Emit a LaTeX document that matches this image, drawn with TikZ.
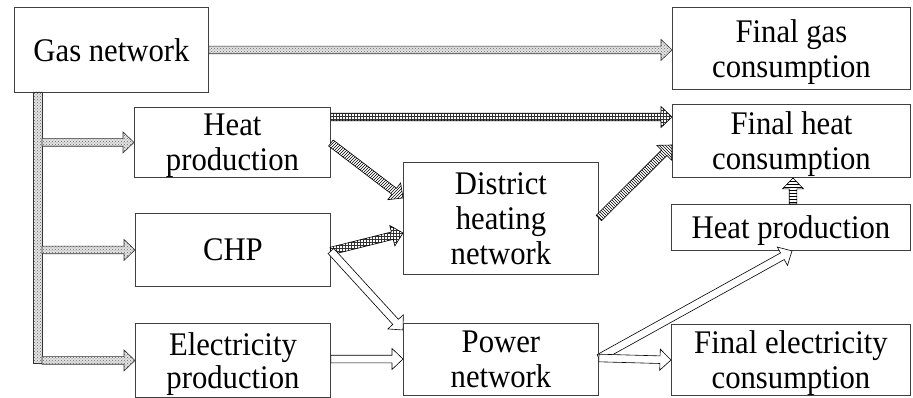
\documentclass[tikz,border=0pt]{standalone}
\usepackage{fontspec}
\setmainfont{Liberation Serif}[FakeStretch=0.93]
\usetikzlibrary{calc,patterns}
\newcommand{\barrow}[3]{%
  \coordinate (ba-h) at ($(#3)!11pt!(#2)$);
  \path[#1] ($(#2)!3.8pt!90:(#3)$) -- ($(ba-h)!3.8pt!90:(#3)$) -- ($(ba-h)!10.5pt!90:(#3)$) -- (#3)
    -- ($(ba-h)!10.5pt!-90:(#3)$) -- ($(ba-h)!3.8pt!-90:(#3)$) -- ($(#2)!3.8pt!-90:(#3)$) -- cycle;
}
\tikzset{
  box/.style={draw=black!75, line width=0.9pt, inner sep=0pt, align=center, anchor=north west,
    text depth=0pt, font=\fontsize{33}{35}\selectfont},
  tight/.style={font=\fontsize{33}{33}\selectfont},
  gasarrow/.style={draw=black!80, line width=0.6pt, preaction={fill=gray!22}, pattern=crosshatch dots, pattern color=black!60},
  heatH/.style={draw=black, line width=0.6pt, preaction={fill=white}, pattern=grid, pattern color=black!80},
  heatNE/.style={draw=black, line width=0.6pt, preaction={fill=white}, pattern=north east lines, pattern color=black},
  heatNW/.style={draw=black, line width=0.6pt, preaction={fill=white}, pattern=north west lines, pattern color=black},
  heatV/.style={draw=black, line width=0.6pt, preaction={fill=white}, pattern=horizontal lines, pattern color=black},
  elecarrow/.style={draw=black, line width=0.6pt, fill=white},
}
\begin{document}
\begin{tikzpicture}[x=1pt,y=-1pt]
\useasboundingbox (0,0) rectangle (913,398);
% boxes
\node[box, minimum width=194, minimum height=85] (gas) at (14,7) {Gas network};
\node[box, minimum width=238, minimum height=82] (fgas) at (672,7) {Final gas\\consumption};
\node[box, minimum width=196, minimum height=70] (hp) at (134,107) {Heat\\production};
\node[box, minimum width=238, minimum height=73] (fheat) at (672,104) {Final heat\\consumption};
\node[box, minimum width=195, minimum height=112] (dhn) at (403,162) {District\\heating\\network};
\node[box, minimum width=195, minimum height=73] (chp) at (135,213) {CHP};
\node[box, minimum width=239, minimum height=46] (hpr) at (671,204) {Heat production};
\node[box, tight, minimum width=195, minimum height=74] (ep) at (135,323) {Electricity\\production};
\node[box, minimum width=195, minimum height=72] (pn) at (403,323) {Power\\network};
\node[box, minimum width=239, minimum height=71] (fel) at (671,324) {Final electricity\\consumption};
% connection points
\coordinate (gasA) at (gas.east);
\coordinate (gasB) at (gas.east -| fgas.west);
\coordinate (b1) at (42,0 |- hp.west);
\coordinate (b2) at (42,0 |- chp.west);
\coordinate (b3) at (42,0 |- ep.west);
\coordinate (hpA) at ($(hp.north east)+(0,10)$);
\coordinate (hpB) at (hpA -| fheat.west);
\coordinate (hpC) at ($(hp.north east)+(0,36)$);
\coordinate (dhnA) at ($(dhn.north west)+(0,36)$);
\coordinate (chpA) at ($(chp.north east)+(0,38)$);
\coordinate (dhnB) at ($(dhn.north west)+(0,71)$);
\coordinate (dhnC) at ($(dhn.north east)+(0,56)$);
\coordinate (fhA) at ($(fheat.north west)+(0,41)$);
\coordinate (hprA) at ($(hpr.north west)+(122,0)$);
\coordinate (hprB) at (hprA |- fheat.south);
\coordinate (pnA) at ($(pn.north west)+(0,7)$);
\coordinate (epA) at ($(ep.north east)+(0,36)$);
\coordinate (pnB) at (epA -| pn.west);
\coordinate (pnC) at ($(pn.north east)+(0,35)$);
\coordinate (hprC) at ($(hpr.south west)+(121,0)$);
\coordinate (felA) at ($(fel.north west)+(0,36)$);
% gas
\barrow{gasarrow}{gasA}{gasB}
\path[gasarrow] (33,92) rectangle (42,363);
\barrow{gasarrow}{b1}{hp.west}
\barrow{gasarrow}{b2}{chp.west}
\barrow{gasarrow}{b3}{ep.west}
% heat
\barrow{heatH}{hpA}{hpB}
\barrow{heatNE}{hpC}{dhnA}
\barrow{heatH}{chpA}{dhnB}
\barrow{heatNW}{dhnC}{fhA}
\barrow{heatV}{hprA}{hprB}
% electricity
\barrow{elecarrow}{chpA}{pnA}
\barrow{elecarrow}{epA}{pnB}
\barrow{elecarrow}{pnC}{hprC}
\barrow{elecarrow}{pnC}{felA}
\end{tikzpicture}
\end{document}
